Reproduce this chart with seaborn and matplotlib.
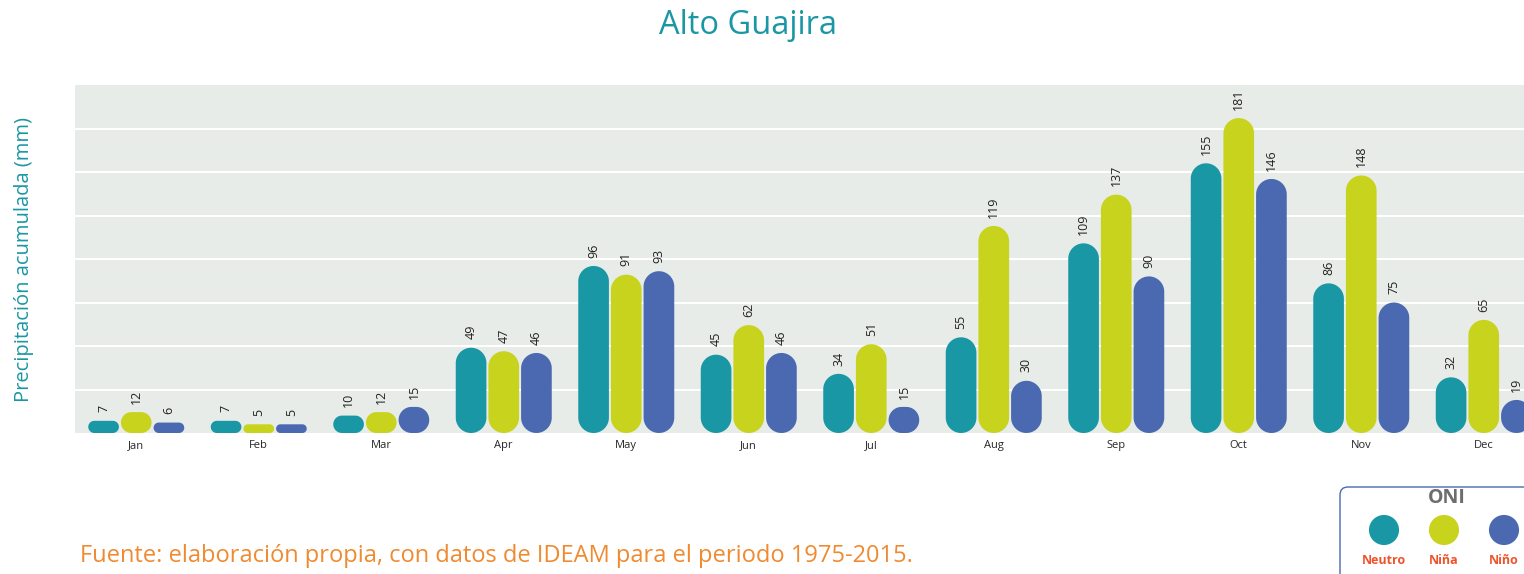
import numpy as np
import pandas as pd
import seaborn as sns
import matplotlib.pyplot as plt
from matplotlib.patches import FancyBboxPatch, Polygon

# ---- data ----
months = ['Jan', 'Feb', 'Mar', 'Apr', 'May', 'Jun', 'Jul', 'Aug', 'Sep', 'Oct', 'Nov', 'Dec']
phases = ['Neutro', 'Niña', 'Niño']
neutro = [7, 7, 10, 49, 96, 45, 34, 55, 109, 155, 86, 32]
nina = [12, 5, 12, 47, 91, 62, 51, 119, 137, 181, 148, 65]
nino = [6, 5, 15, 46, 93, 46, 15, 30, 90, 146, 75, 19]

colors = ['#1A97A4', '#C8D31E', '#4A69B0']
teal = '#1A97A4'

df = pd.DataFrame({
    'month': months * 3,
    'phase': [p for p in phases for _ in months],
    'mm': neutro + nina + nino,
})

sns.set_style('white')
plt.rcParams['font.family'] = ['Open Sans', 'DejaVu Sans']

W, H = 1524, 574
fig = plt.figure(figsize=(W / 100, H / 100), dpi=100)
ax = fig.add_axes([75 / W, 141 / H, (1545 - 75) / W, 348 / H])
ax.set_facecolor('#E7ECE8')

sns.barplot(data=df, x='month', y='mm', hue='phase', hue_order=phases,
            palette=colors, width=0.8, legend=False, ax=ax, saturation=1)

ax.set_xlim(-0.5, 11.5)
ax.set_ylim(0, 200)
ax.set_yticks(np.arange(25, 200, 25))
ax.set_yticklabels([])
ax.tick_params(axis='y', length=0)
ax.tick_params(axis='x', length=0, labelsize=8, pad=5)
ax.grid(axis='y', color='white', linewidth=1.5)
ax.set_axisbelow(True)
for s in ax.spines.values():
    s.set_visible(False)
ax.set_xlabel('')
ax.set_ylabel('Precipitación acumulada (mm)', color=teal, fontsize=14.5, labelpad=26)

# value labels
for c in ax.containers:
    ax.bar_label(c, rotation=90, padding=6, fontsize=9, color='#222222')


def pill_vertices(x, y, w, h, rx, ry):
    # rounded rectangle outline with elliptical (circular on screen) corners
    t = np.linspace(0, np.pi / 2, 24)
    corners = [(x + w - rx, y + h - ry, 0), (x + rx, y + h - ry, np.pi / 2),
               (x + rx, y + ry, np.pi), (x + w - rx, y + ry, 1.5 * np.pi)]
    pts = []
    for cx, cy, a0 in corners:
        pts.append(np.column_stack([cx + rx * np.cos(t + a0), cy + ry * np.sin(t + a0)]))
    return np.vstack(pts)


# turn bars into pills (rounded ends)
fig.canvas.draw()
p0 = ax.transData.transform((0, 0))
px_x = ax.transData.transform((1, 0))[0] - p0[0]
px_y = ax.transData.transform((0, 1))[1] - p0[1]
gap = 1.0 / px_x
for bar in list(ax.patches):
    x, y = bar.get_x(), bar.get_y()
    w, h = bar.get_width(), bar.get_height()
    fc = bar.get_facecolor()
    bar.remove()
    x, w = x + gap, w - 2 * gap
    r_px = min(w * px_x, h * px_y) / 2
    verts = pill_vertices(x, y, w, h, r_px / px_x, r_px / px_y)
    ax.add_patch(Polygon(verts, closed=True, facecolor=fc, edgecolor='none',
                         clip_on=False))

fig.text(0.491, 1 - 26 / H, 'Alto Guajira', ha='center', va='center',
         color=teal, fontsize=23.5)
fig.text(80 / W, 1 - 556 / H,
         'Fuente: elaboración propia, con datos de IDEAM para el periodo 1975-2015.',
         ha='left', va='center', color='#F08A30', fontsize=17)

# legend box
box = FancyBboxPatch((1340 / W, -0.1), 0.2, 0.1 + 87 / H,
                     boxstyle=f'round,pad=0,rounding_size={8 / W}',
                     mutation_aspect=W / H, transform=fig.transFigure,
                     fill=False, edgecolor='#4A69B0', linewidth=1)
fig.patches.append(box)
lax = fig.add_axes([1354 / W, 0, 180 / W, 87 / H])
lax.set_xlim(-0.5, 2.5)
lax.set_ylim(0, 87)
lax.axis('off')
lax.scatter(range(3), [44] * 3, s=470, c=colors, linewidths=0)
for i, p in enumerate(phases):
    lax.text(i, 13, p, ha='center', va='center', color='#F0532B',
             fontsize=9, fontweight='bold')
fig.text(1447 / W, 1 - 498 / H, 'ONI', ha='center', va='center',
         color='#6D6D6D', fontsize=14, fontweight='bold')

fig.savefig('out.png', dpi=100)
